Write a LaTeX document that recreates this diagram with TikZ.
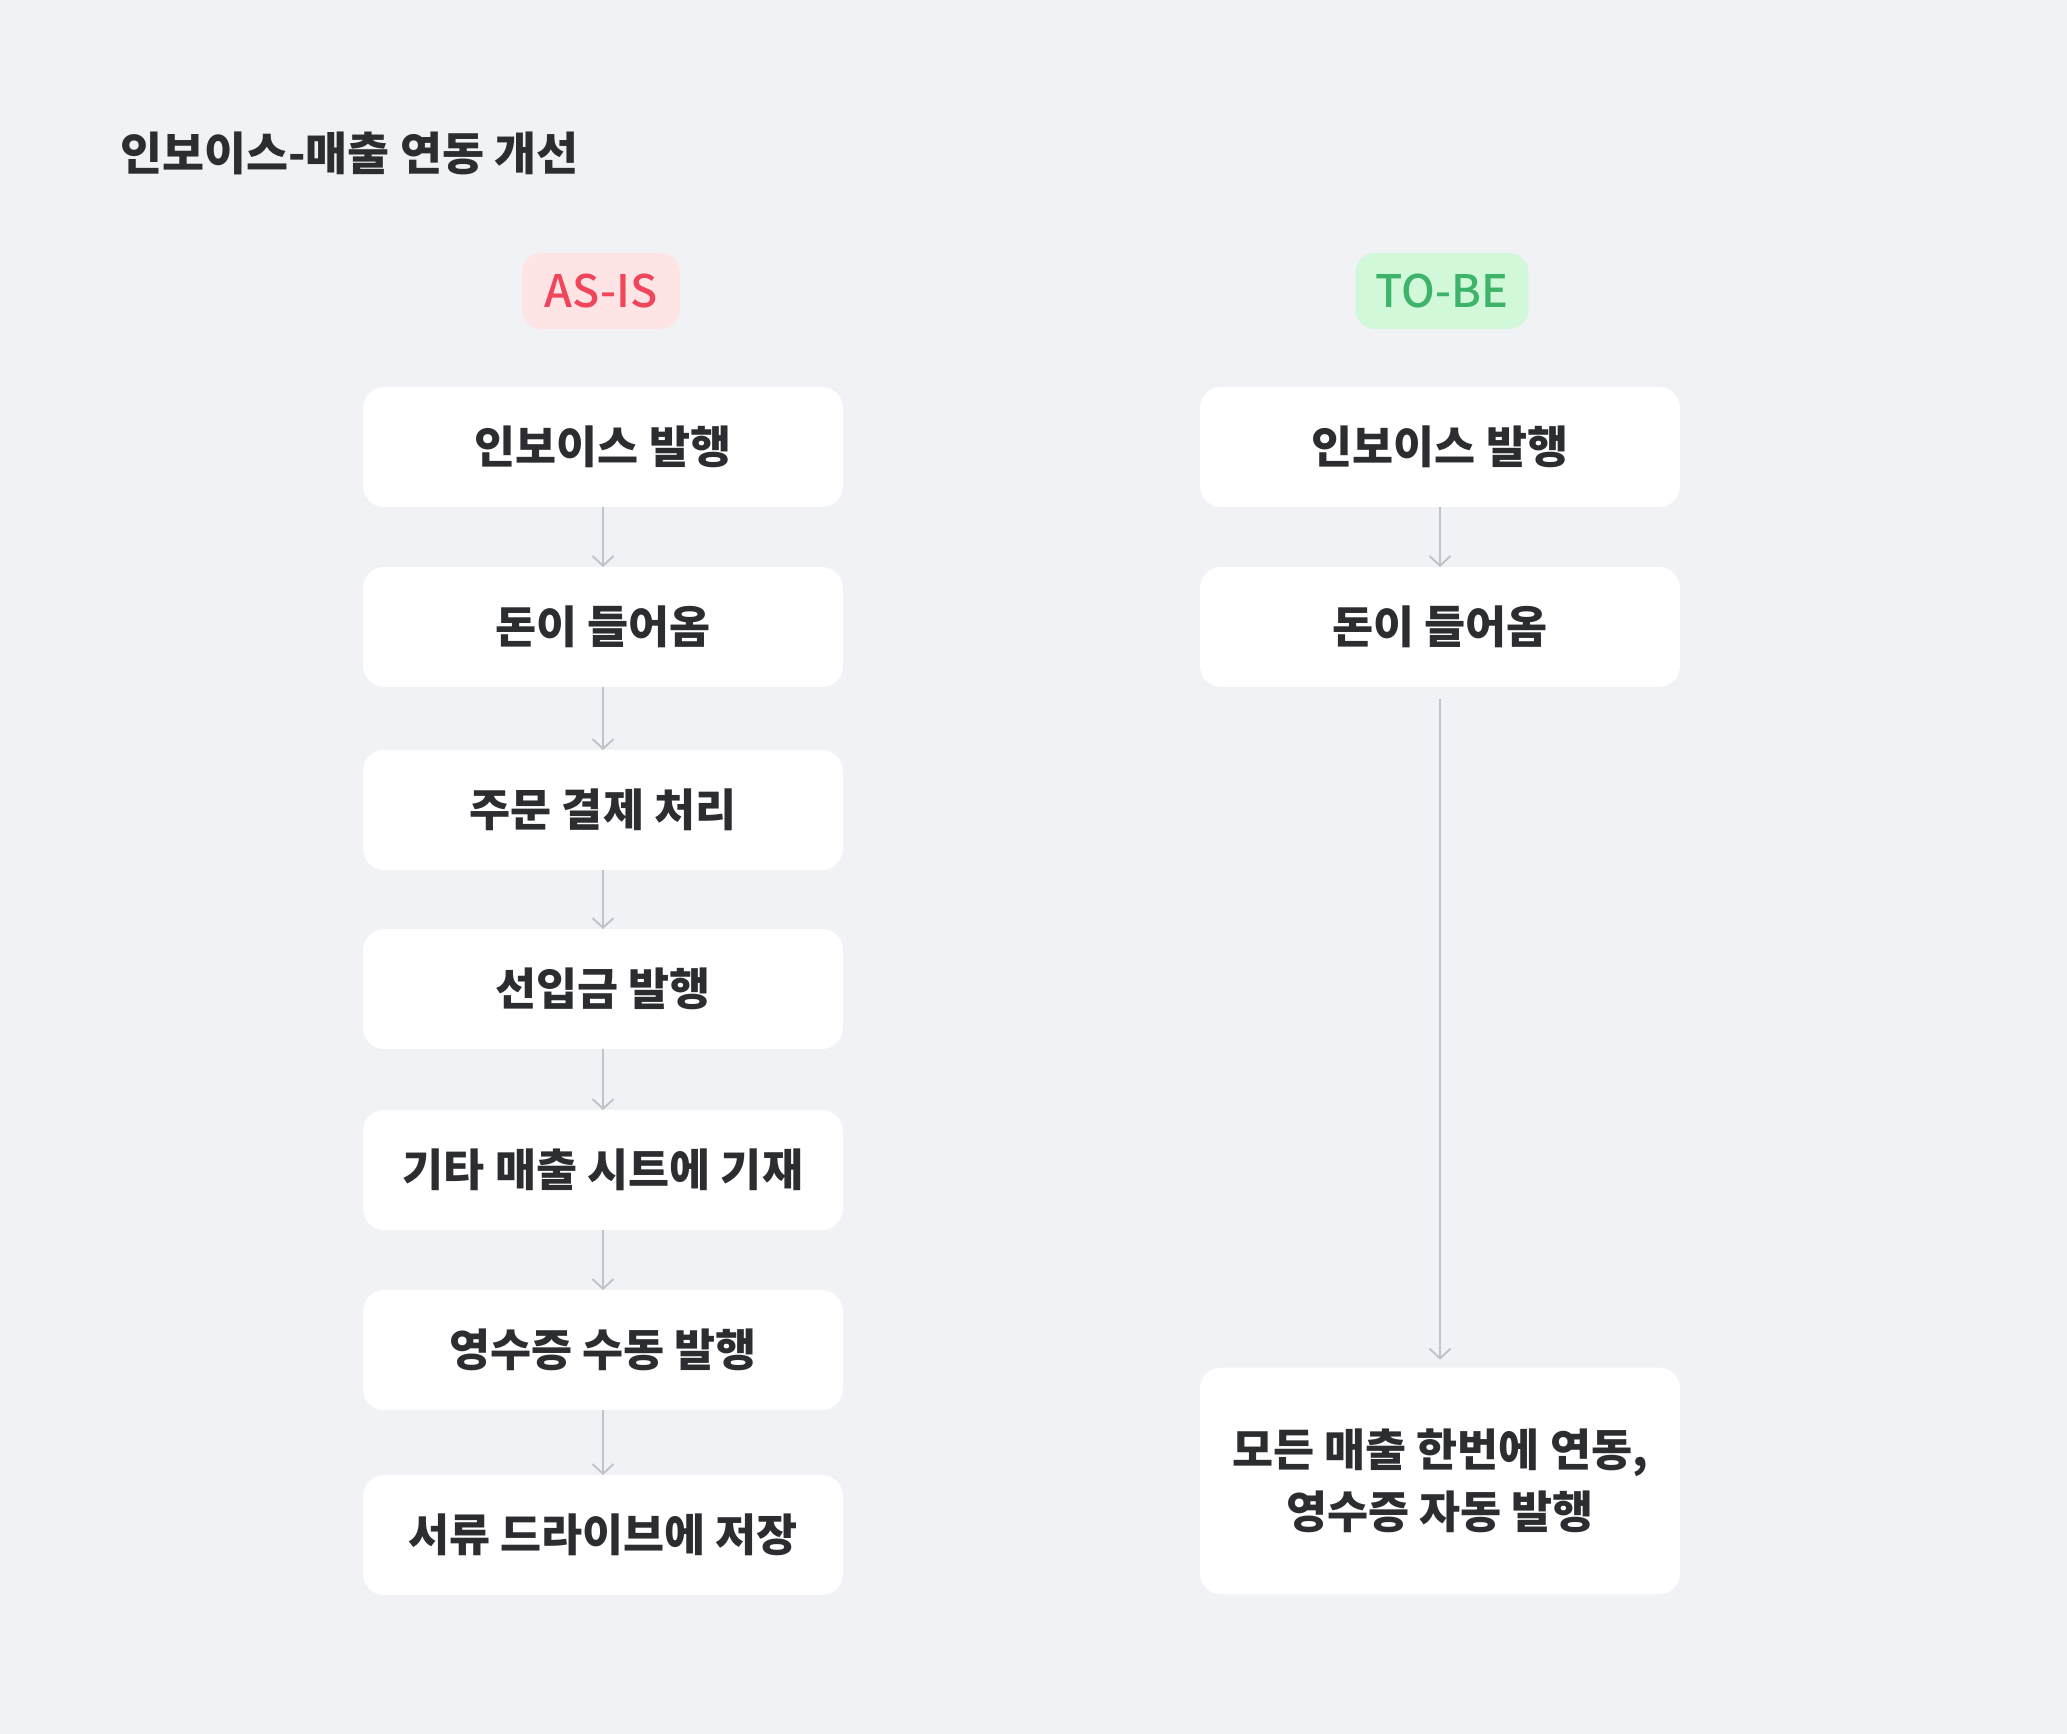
\documentclass[tikz,border=0pt]{standalone}
\usepackage{fontspec}
\setmainfont{Noto Sans CJK KR}
\newfontfamily\krmedium{Noto Sans CJK KR Medium}
\usetikzlibrary{arrows.meta}
\definecolor{bgcol}{HTML}{F0F2F5}
\definecolor{inkcol}{HTML}{2B2D31}
\definecolor{linecol}{HTML}{C0C3C9}
\definecolor{asisfill}{HTML}{FFE4E6}
\definecolor{asistext}{HTML}{F0455A}
\definecolor{tobefill}{HTML}{D2F8DA}
\definecolor{tobetext}{HTML}{3DB46A}

\begin{document}
\begin{tikzpicture}[x=0.02cm, y=-0.02cm,
  flowbox/.style={fill=white, rounded corners=12pt, minimum width=9.6cm, minimum height=2.4cm, outer sep=0pt, inner sep=0pt, text=inkcol, font=\fontsize{25.4pt}{35.5pt}\selectfont\bfseries, align=center},
  badge/.style={rounded corners=11pt, minimum height=1.52cm, outer sep=0pt, inner sep=0pt, font=\fontsize{25.5pt}{28pt}\selectfont\krmedium},
  flowline/.style={draw=linecol, line width=1.1pt, -{Straight Barb[length=5.5pt,width=12pt]}}]
\useasboundingbox[fill=bgcol] (0,0) rectangle (2067,1734);

\node[anchor=west, text=inkcol, font=\fontsize{26pt}{30pt}\selectfont\bfseries] (title) at (114,153) {인보이스-매출 연동 개선};

\node[badge, fill=asisfill, text=asistext, minimum width=3.16cm] (asis) at (601,291) {AS-IS};
\node[badge, fill=tobefill, text=tobetext, minimum width=3.46cm] (tobe) at (1442,291) {TO-BE};

% as-is
\node[flowbox] (a1) at (603,447) {인보이스 발행};
\node[flowbox] (a2) at (603,627) {돈이 들어옴};
\node[flowbox] (a3) at (603,810) {주문 결제 처리};
\node[flowbox] (a4) at (603,989) {선입금 발행};
\node[flowbox] (a5) at (603,1170) {기타 매출 시트에 기재};
\node[flowbox] (a6) at (603,1350) {영수증 수동 발행};
\node[flowbox] (a7) at (603,1535) {서류 드라이브에 저장};

% to-be
\node[flowbox] (b1) at (1440,447) {인보이스 발행};
\node[flowbox] (b2) at (1440,627) {돈이 들어옴};
\node[flowbox, minimum height=4.54cm] (b3) at (1440,1481) {모든 매출 한번에 연동,\\영수증 자동 발행};

\draw[flowline] (a1) -- (a2);
\draw[flowline] (a2) -- (a3);
\draw[flowline] (a3) -- (a4);
\draw[flowline] (a4) -- (a5);
\draw[flowline] (a5) -- (a6);
\draw[flowline] (a6) -- (a7);

\draw[flowline] (b1) -- (b2);
\draw[flowline, shorten <=6.8pt, shorten >=4.5pt] (b2) -- (b3);
\end{tikzpicture}
\end{document}
